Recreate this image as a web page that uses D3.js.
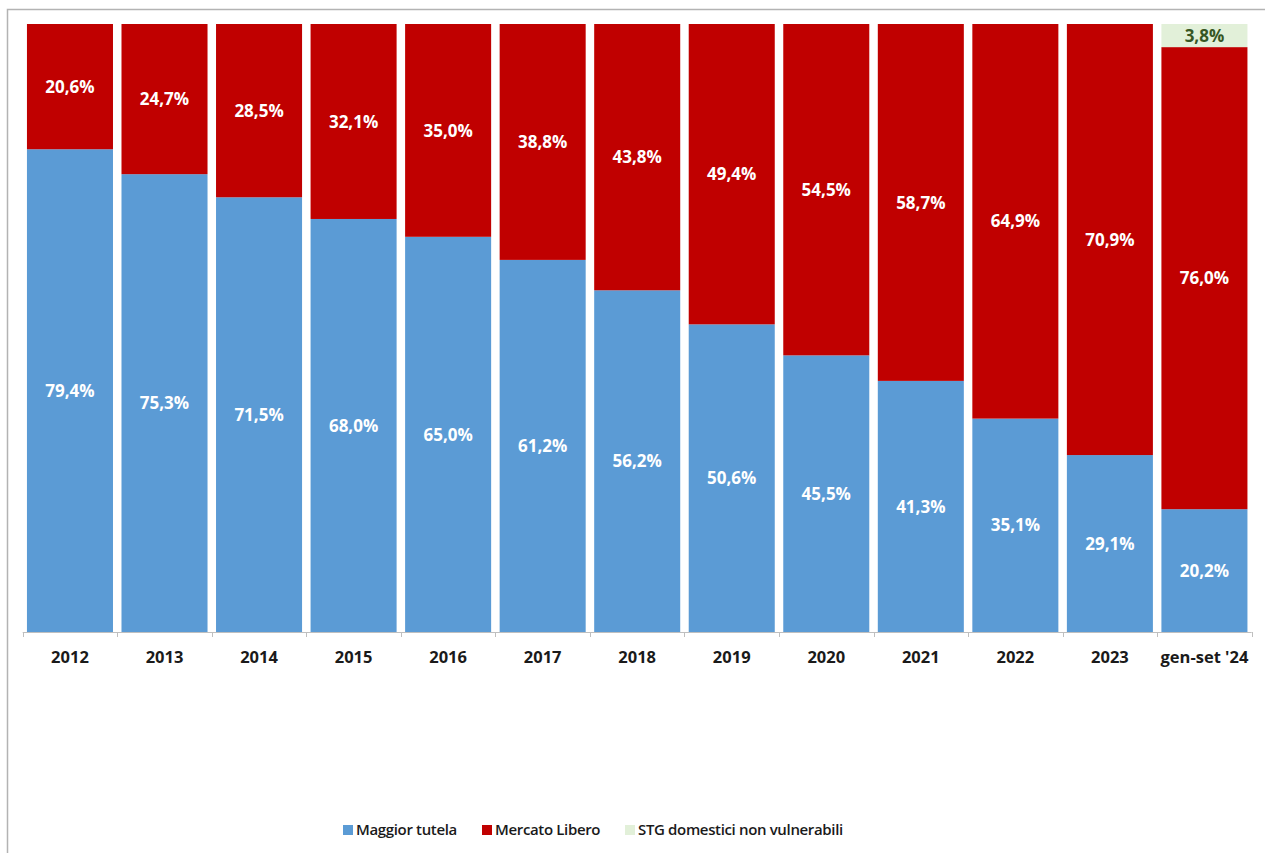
<!DOCTYPE html>
<html>
<head>
<meta charset="utf-8">
<script src="https://cdn.jsdelivr.net/npm/d3@7"></script>
<style>
	body { margin: 0; background: #fff; }
	svg { display: block; font-family: "Open Sans", "Noto Sans", sans-serif; }
</style>
</head>
<body>
<svg id="chart"></svg>
<script>
// Categories and series (percent of customers)
const categories = ["2012", "2013", "2014", "2015", "2016", "2017", "2018", "2019", "2020", "2021", "2022", "2023", "gen-set '24"];
const maggiorTutela = [79.4, 75.3, 71.5, 68.0, 65.0, 61.2, 56.2, 50.6, 45.5, 41.3, 35.1, 29.1, 20.2];
const mercatoLibero = [20.6, 24.7, 28.5, 32.1, 35.0, 38.8, 43.8, 49.4, 54.5, 58.7, 64.9, 70.9, 76.0];
const stgDomestici = [0, 0, 0, 0, 0, 0, 0, 0, 0, 0, 0, 0, 3.8];

const seriesNames = ["Maggior tutela", "Mercato Libero", "STG domestici non vulnerabili"];
const seriesKeys = ["mt", "ml", "stg"];
const colors = { mt: "#5B9BD5", ml: "#C00000", stg: "#E2F0D9" };
const labelColors = { mt: "#ffffff", ml: "#ffffff", stg: "#375623" };

const width = 1265, height = 853;
const margin = { left: 22.7, right: 13.3, top: 24, bottom: 221 };

const svg = d3.select("#chart")
	.attr("width", width)
	.attr("height", height);

// outer frame (only left and top edges are visible)
svg.append("rect")
	.attr("x", 7.5).attr("y", 9.5)
	.attr("width", width + 20).attr("height", height + 20)
	.attr("fill", "none")
	.attr("stroke", "#b3b3b3")
	.attr("stroke-width", 1.5);

const rows = categories.map((c, i) => ({ cat: c, mt: maggiorTutela[i], ml: mercatoLibero[i], stg: stgDomestici[i] }));

const stacked = d3.stack()
	.keys(seriesKeys)
	.offset(d3.stackOffsetExpand)(rows);

const x = d3.scaleBand()
	.domain(categories)
	.range([margin.left, width - margin.right])
	.paddingInner(0.09)
	.paddingOuter(0.045);

const y = d3.scaleLinear()
	.domain([0, 1])
	.range([height - margin.bottom, margin.top]);

const chartArea = svg.append("g");

const layers = chartArea.selectAll(".layer")
	.data(stacked)
	.join("g")
	.attr("class", "layer")
	.attr("fill", d => colors[d.key]);

layers.selectAll("rect")
	.data(d => d.map(v => ({ key: d.key, v })))
	.join("rect")
	.attr("x", d => x(d.v.data.cat))
	.attr("width", x.bandwidth())
	.attr("y", d => y(d.v[1]))
	.attr("height", d => y(d.v[0]) - y(d.v[1]));

// value labels
layers.selectAll("text")
	.data(d => d.map(v => ({ key: d.key, v })).filter(d => d.v.data[d.key] > 0))
	.join("text")
	.attr("x", d => x(d.v.data.cat) + x.bandwidth() / 2)
	.attr("y", d => (y(d.v[0]) + y(d.v[1])) / 2)
	.attr("dy", "0.36em")
	.attr("text-anchor", "middle")
	.attr("fill", d => labelColors[d.key])
	.attr("font-size", 17)
	.attr("font-weight", "bold")
	.text(d => d.v.data[d.key].toFixed(1).replace(".", ",") + "%");

// x axis with ticks at band boundaries
const axisY = height - margin.bottom;
const axisG = chartArea.append("g");
axisG.append("line")
	.attr("x1", margin.left).attr("x2", width - margin.right)
	.attr("y1", axisY + 0.5).attr("y2", axisY + 0.5)
	.attr("stroke", "#bfbfbf");

const tickXs = categories.map(c => x(c) - x.step() * x.paddingInner() / 2);
tickXs.push(width - margin.right);
axisG.selectAll(".tick")
	.data(tickXs)
	.join("line")
	.attr("class", "tick")
	.attr("x1", d => Math.round(d) + 0.5).attr("x2", d => Math.round(d) + 0.5)
	.attr("y1", axisY).attr("y2", axisY + 5)
	.attr("stroke", "#bfbfbf");

axisG.selectAll(".cat-label")
	.data(categories)
	.join("text")
	.attr("class", "cat-label")
	.attr("x", d => x(d) + x.bandwidth() / 2)
	.attr("y", axisY + 25)
	.attr("dy", "0.36em")
	.attr("text-anchor", "middle")
	.attr("fill", "#1a1a1a")
	.attr("font-size", 16.5)
	.attr("font-weight", "bold")
	.text(d => d);

// legend
const legendX = [343, 482, 625];
const legend = svg.append("g");
const items = legend.selectAll("g")
	.data(seriesKeys)
	.join("g")
	.attr("transform", (d, i) => `translate(${legendX[i]},830)`);

items.append("rect")
	.attr("x", 0).attr("y", -5)
	.attr("width", 10).attr("height", 10)
	.attr("fill", d => colors[d]);

items.append("text")
	.attr("x", 13)
	.attr("y", 0)
	.attr("dy", "0.36em")
	.attr("fill", "#1a1a1a")
	.attr("font-size", 15)
	.attr("letter-spacing", "-0.35px")
	.attr("font-weight", 600)
	.text((d, i) => seriesNames[i]);
</script>
</body>
</html>
